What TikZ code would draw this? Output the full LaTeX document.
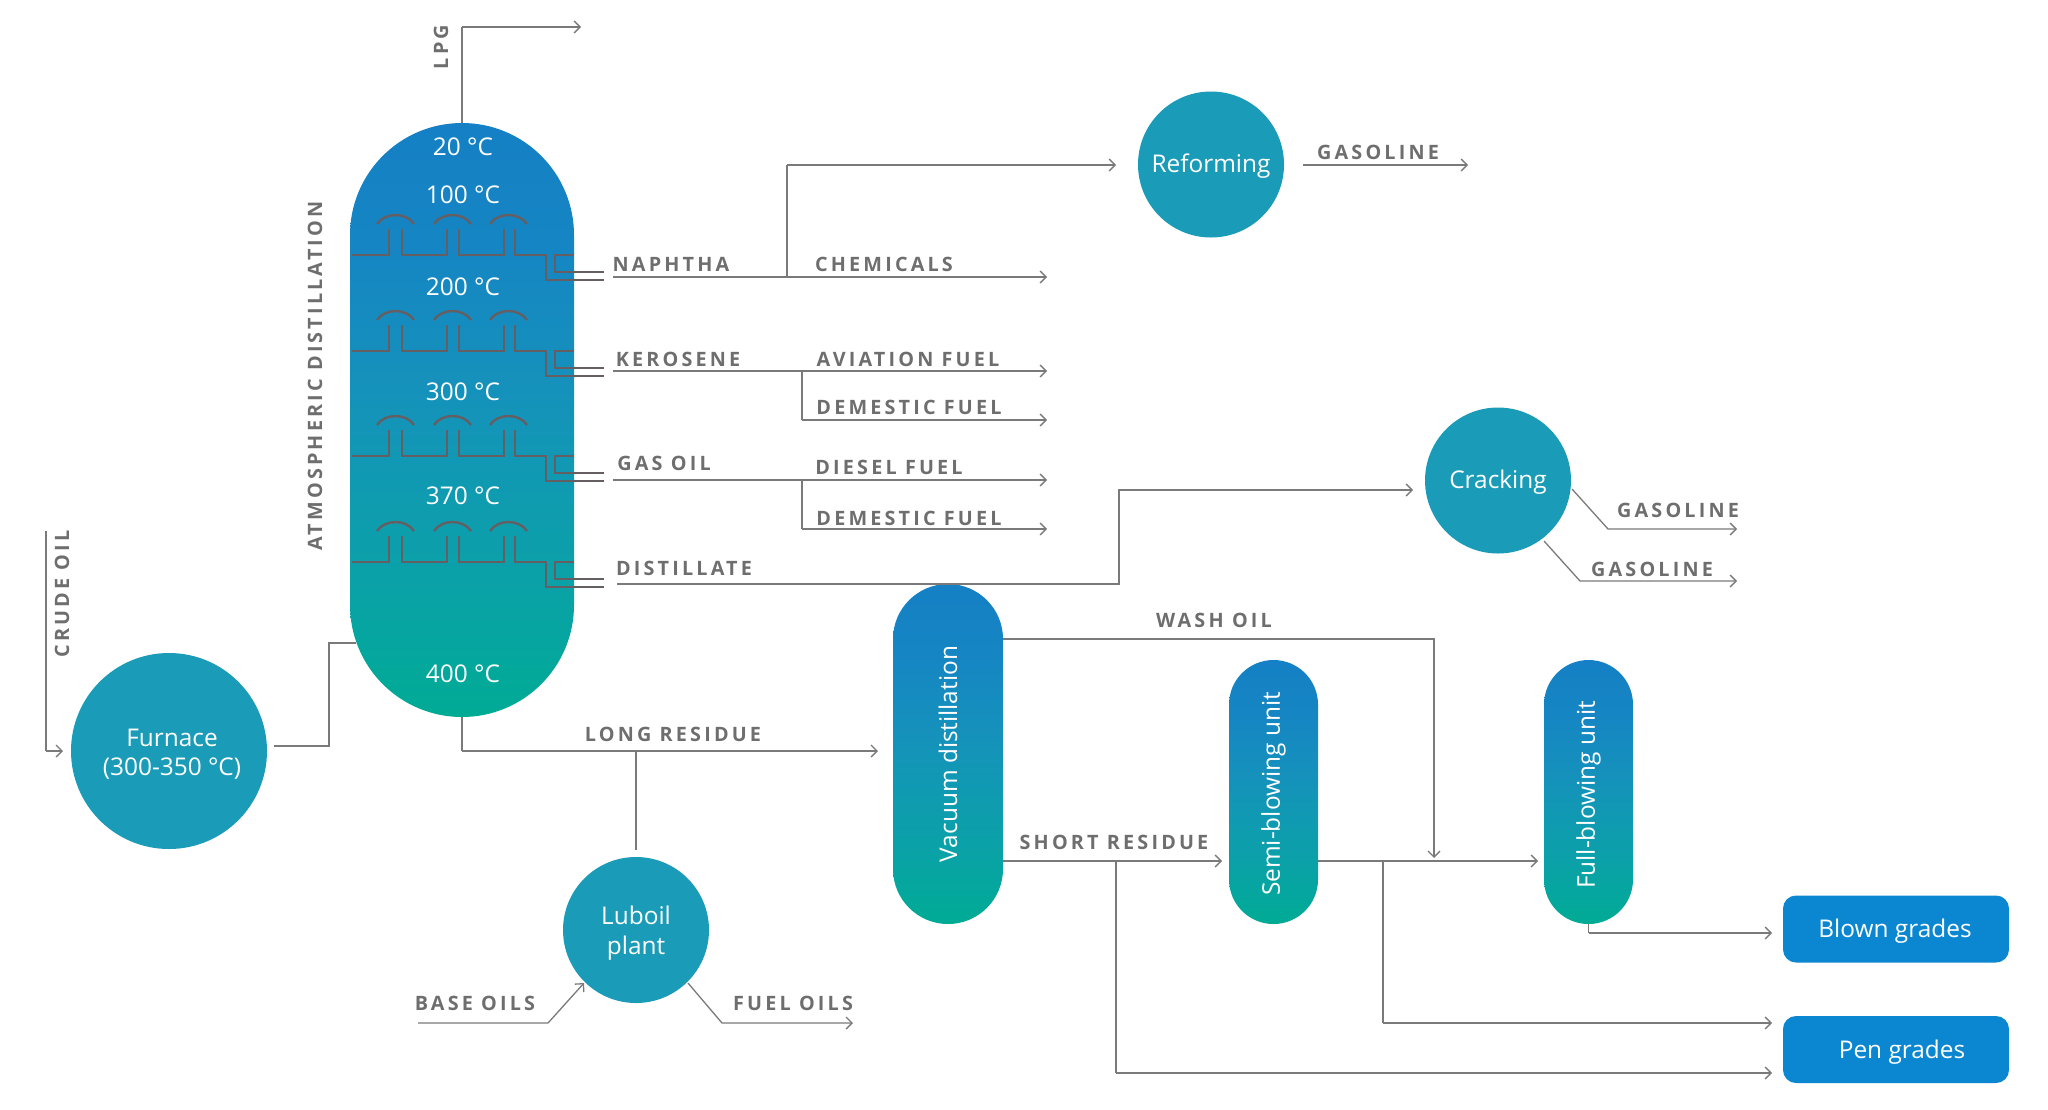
\documentclass[tikz,border=0pt]{standalone}
\usepackage{fontspec}
\setmainfont{Open Sans}
\newfontfamily\streamfont[LetterSpace=16]{Open Sans}
\usetikzlibrary{arrows.meta,positioning}
\definecolor{columnblue}{HTML}{1580C5}
\definecolor{columnupper}{HTML}{1585C3}
\definecolor{columnmid}{HTML}{1592BB}
\definecolor{columnlow}{HTML}{0F9BB0}
\definecolor{columnsea}{HTML}{09A3A6}
\definecolor{columngreen}{HTML}{00AB94}
\definecolor{unitteal}{HTML}{1A9BB7}
\definecolor{gradeblue}{HTML}{0A87D0}
\definecolor{streamgrey}{HTML}{7A7A7A}
\definecolor{labelgrey}{HTML}{6E6E6E}
\definecolor{traygrey}{HTML}{655F63}
\pgfdeclareverticalshading{columnfade}{100bp}{color(0bp)=(columngreen); color(25bp)=(columngreen); color(35bp)=(columnsea); color(43.5bp)=(columnlow); color(52.5bp)=(columnmid); color(65bp)=(columnupper); color(75bp)=(columnblue); color(100bp)=(columnblue)}
\tikzset{
  >={Straight Barb[length=3pt,width=6pt]},
  stream/.style={draw=streamgrey, line width=0.65pt},
  feed/.style={stream, ->},
  tray/.style={draw=traygrey, line width=1.2pt},
  unit/.style={circle, fill=unitteal, minimum size=#1, inner sep=0pt},
  unittext/.style={text=white, inner sep=0pt, align=center, yshift=-1.7pt, font=\fontsize{12.2}{14.8}\selectfont},
  column/.style={shade, shading=columnfade, text=white, inner sep=0pt, font=\fontsize{12.2}{14.8}\selectfont},
  grade/.style={fill=gradeblue, rounded corners=6.5pt, minimum width=113pt, minimum height=33.5pt, inner sep=0pt},
  temp/.style={text=white, inner sep=0pt, font=\fontsize{12.2}{14.8}\selectfont},
  tag/.style={text=labelgrey, inner sep=0pt, font=\fontsize{9.9}{12}\streamfont\bfseries},
}
\begin{document}
\begin{tikzpicture}[x=0.5pt,y=-0.5pt]
\useasboundingbox (0,0) rectangle (2048,1109);

\node[column, minimum width=112pt, minimum height=297pt, rounded corners=56pt] (tower) at (462,420) {};
\node[column, minimum width=55pt, minimum height=170pt, rounded corners=27.5pt] (vacuum) at (948,754) {\rotatebox{90}{Vacuum distillation}};
\node[column, minimum width=44.5pt, minimum height=132pt, rounded corners=22.25pt] (semi) at (1273.5,792) {\rotatebox{90}{Semi-blowing unit\hspace{2pt}}};
\node[column, minimum width=44.5pt, minimum height=132pt, rounded corners=22.25pt] (full) at (1588.5,792) {\rotatebox{90}{Full-blowing unit\hspace{3pt}}};

\node[unit=98pt, label={[unittext, xshift=1.5pt]center:Furnace\\(300-350 °C)}] (furnace) at (169,751) {};
\node[unit=73pt, label={[unittext]center:Luboil\\plant}] (luboil) at (636,930) {};
\node[unit=73pt, label={[unittext, yshift=0.8pt]center:Reforming}] (reforming) at (1211,164.5) {};
\node[unit=73pt, label={[unittext, yshift=0.8pt]center:Cracking}] (cracking) at (1498,480.5) {};
\node[grade, label={[unittext, xshift=-0.5pt, yshift=0.5pt]center:Blown grades}] (blown) at (1896,929) {};
\node[grade, label={[unittext, xshift=3pt, yshift=0.5pt]center:Pen grades}] (pen) at (1896,1049.5) {};

\node[temp] (t20) at (463,147) {20 °C};
\node[temp] (t100) at (463,195) {100 °C};
\node[temp] (t200) at (463,287) {200 °C};
\node[temp] (t300) at (463,392) {300 °C};
\node[temp] (t370) at (463,496) {370 °C};
\node[temp] (t400) at (463,674) {400 °C};

\foreach \y in {255,351,456,562} {
  \draw[tray] (352,\y) -- (389,\y) -- (389,\y-26);
  \draw[tray] (402,\y-26) -- (402,\y) -- (447,\y) -- (447,\y-26);
  \draw[tray] (459,\y-26) -- (459,\y) -- (504,\y) -- (504,\y-26);
  \draw[tray] (515,\y-26) -- (515,\y) -- (546,\y) -- (546,\y+25) -- (604,\y+25);
  \draw[tray] (574,\y) -- (555,\y) -- (555,\y+17) -- (604,\y+17);
  \foreach \x in {377,434,490}
    \draw[tray] (\x,\y-31) .. controls (\x+8,\y-43) and (\x+29,\y-43) .. (\x+37,\y-31);
}

\node[tag, rotate=90] (lpg) at (441,47) {LPG};
\node[tag, rotate=90] (atmospheric) at (315,376) {ATMOSPHERIC DISTILLATION};
\node[tag, rotate=90] (crude) at (62,594) {CRUDE OIL};
\node[tag] (naphtha) at (671,264) {NAPHTHA};
\node[tag] (chemicals) at (884,264) {CHEMICALS};
\node[tag] (kerosene) at (678,359) {KEROSENE};
\node[tag] (aviation) at (908,359) {AVIATION FUEL};
\node[tag] (domestic1) at (909,407) {DEMESTIC FUEL};
\node[tag] (gasoil) at (664,463) {GAS OIL};
\node[tag] (diesel) at (889,467) {DIESEL FUEL};
\node[tag] (domestic2) at (909,518) {DEMESTIC FUEL};
\node[tag] (distillate) at (684,568) {DISTILLATE};
\node[tag] (gasoline1) at (1378,152) {GASOLINE};
\node[tag] (gasoline2) at (1678,510) {GASOLINE};
\node[tag] (gasoline3) at (1652,569) {GASOLINE};
\node[tag] (washoil) at (1214,620) {WASH OIL};
\node[tag] (shortres) at (1114,842) {SHORT RESIDUE};
\node[tag] (longres) at (673,734) {LONG RESIDUE};
\node[tag] (baseoils) at (475,1003) {BASE OILS};
\node[tag] (fueloils) at (793,1003) {FUEL OILS};

\coordinate (lpgend) at (581,27);
\coordinate (crudestart) at (46,531);
\coordinate (crudeend) at (63,751);
\coordinate (furnaceout) at (274,746);
\coordinate (towerin) at (356,643);
\coordinate (longend) at (878,751);
\coordinate (longtap) at (636,751);
\coordinate (naphthastart) at (613,277);
\coordinate (naphthatap) at (787,277);
\coordinate (naphthaend) at (1047,277);
\coordinate (reformingin) at (1116,165);
\coordinate (reformingout) at (1303,165);
\coordinate (reformingend) at (1468,165);
\coordinate (kerosenestart) at (613,371);
\coordinate (kerosenetap) at (802,371);
\coordinate (keroseneend) at (1047,371);
\coordinate (domestic1end) at (1047,420);
\coordinate (gasoilstart) at (613,480);
\coordinate (gasoiltap) at (802,480);
\coordinate (gasoilend) at (1047,480);
\coordinate (domestic2end) at (1047,529);
\coordinate (distillatestart) at (617,584);
\coordinate (distillatebend) at (1119,584);
\coordinate (crackingin) at (1413,490);
\coordinate (crackout1) at (1572,489);
\coordinate (crackbend1) at (1608,529);
\coordinate (crackend1) at (1737,529);
\coordinate (crackout2) at (1544,541);
\coordinate (crackbend2) at (1580,581);
\coordinate (crackend2) at (1737,581);
\coordinate (washstart) at (1003,639);
\coordinate (washend) at (1434,858);
\coordinate (shortstart) at (1003,861);
\coordinate (shortend) at (1222,861);
\coordinate (shorttap) at (1116,861);
\coordinate (semistart) at (1318,861);
\coordinate (semitap) at (1383,861);
\coordinate (semiend) at (1538,861);
\coordinate (blownend) at (1772,933);
\coordinate (penend1) at (1772,1023);
\coordinate (penend2) at (1772,1073);
\coordinate (basestart) at (418,1023);
\coordinate (basebend) at (548,1023);
\coordinate (baseend) at (584,983);
\coordinate (fuelstart) at (688,983);
\coordinate (fuelbend) at (722,1023);
\coordinate (fuelend) at (853,1023);

\path[stream]
(tower.north) -- (tower.north |- lpgend)
(crudestart) -- (crudestart |- crudeend)
(furnaceout) -- (329,746) -- (329,643) -- (towerin)
(tower.south) -- (tower.south |- longend)
(longtap) -- (636,850)
(naphthatap) -- (naphthatap |- reformingin)
(kerosenetap) -- (kerosenetap |- domestic1end)
(gasoiltap) -- (gasoiltap |- domestic2end)
(shorttap) -- (shorttap |- penend2)
(semitap) -- (semitap |- penend1)
(full.south) -- (full.south |- blownend);

\draw[feed] (tower.north |- lpgend) -- (lpgend);
\draw[feed] (crudestart |- crudeend) -- (crudeend);
\draw[feed] (tower.south |- longend) -- (longend);
\draw[feed] (naphthastart) -- (naphthaend);
\draw[feed] (naphthatap |- reformingin) -- (reformingin);
\draw[feed] (reformingout) -- (reformingend);
\draw[feed] (kerosenestart) -- (keroseneend);
\draw[feed] (kerosenetap |- domestic1end) -- (domestic1end);
\draw[feed] (gasoilstart) -- (gasoilend);
\draw[feed] (gasoiltap |- domestic2end) -- (domestic2end);
\draw[feed] (distillatestart) -- (distillatebend) -- (distillatebend |- crackingin) -- (crackingin);
\draw[feed] (crackout1) -- (crackbend1) -- (crackend1);
\draw[feed] (crackout2) -- (crackbend2) -- (crackend2);
\draw[feed] (washstart) -- (washstart -| washend) -- (washend);
\draw[feed] (shortstart) -- (shortend);
\draw[feed] (semistart) -- (semiend);
\draw[feed] (full.south |- blownend) -- (blownend);
\draw[feed] (semitap |- penend1) -- (penend1);
\draw[feed] (shorttap |- penend2) -- (penend2);
\draw[feed] (basestart) -- (basebend) -- (baseend);
\draw[feed] (fuelstart) -- (fuelbend) -- (fuelend);

\end{tikzpicture}
\end{document}
